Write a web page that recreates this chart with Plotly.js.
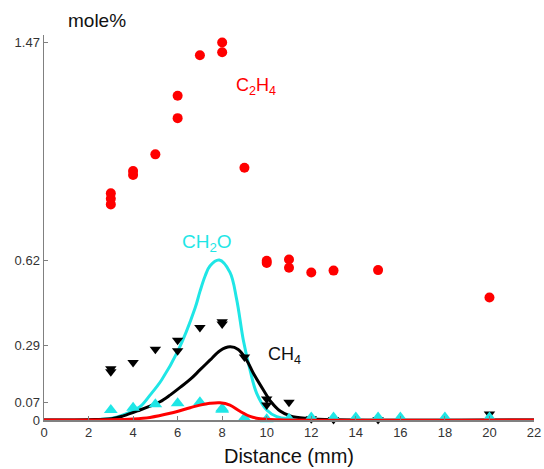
<!DOCTYPE html>
<html>
<head>
<meta charset="utf-8">
<script src="https://cdn.plot.ly/plotly-3.0.1.min.js"></script>
<style>html,body{margin:0;padding:0;background:#fff;}#chart{width:544px;height:469px;}</style>
</head>
<body>
<div id="chart"></div>
<script>
// Measured points
const c2h4X = [3, 3, 3, 4, 4, 5, 6, 6, 7, 8, 8, 9, 10, 10, 11, 11, 12, 13, 15, 20];
const c2h4Y = [0.883, 0.862, 0.84, 0.97, 0.955, 1.035, 1.263, 1.176, 1.421, 1.471, 1.433, 0.983, 0.62, 0.612, 0.625, 0.593, 0.575, 0.582, 0.584, 0.477];

const ch4X = [3, 3, 4, 5, 6, 6, 7, 8, 8, 9, 10, 10, 11, 12, 13, 15, 20];
const ch4Y = [0.2, 0.188, 0.224, 0.276, 0.311, 0.27, 0.36, 0.383, 0.374, 0.245, 0.082, 0.058, 0.069, 0.005, 0.002, 0.002, 0.023];

const ch2oX = [3, 4, 5, 6, 7, 8, 8, 9, 10, 11, 12, 13, 14, 15, 16, 18, 20];
const ch2oY = [0.039, 0.048, 0.061, 0.065, 0.069, 0.045, 0.04, 0.008, 0.003, 0.005, 0.01, 0.01, 0.01, 0.01, 0.01, 0.01, 0.01];

// Model curves
const ch2oCurveX = [0, 2, 3.04, 3.56, 4.31, 4.76, 5.28, 6.03, 6.78, 7.0, 7.23, 7.45, 7.87, 8.35, 8.65, 8.95, 9.25, 9.55, 10.0, 10.45, 11.05, 12, 22];
const ch2oCurveY = [0, 0.001, 0.007, 0.02, 0.052, 0.097, 0.156, 0.272, 0.435, 0.5, 0.56, 0.6, 0.623, 0.575, 0.47, 0.311, 0.195, 0.104, 0.039, 0.013, 0.004, 0.001, 0];

const ch4CurveX = [0, 2, 3.04, 3.56, 4.31, 4.76, 5.21, 5.66, 6.11, 6.56, 7.0, 7.45, 7.9, 8.35, 8.72, 9.1, 9.4, 9.85, 10.2, 10.6, 11.05, 11.8, 13, 22];
const ch4CurveY = [0, 0.001, 0.005, 0.016, 0.039, 0.054, 0.071, 0.097, 0.127, 0.158, 0.195, 0.233, 0.27, 0.285, 0.275, 0.233, 0.182, 0.117, 0.07, 0.035, 0.016, 0.006, 0.001, 0];

const c2h4CurveX = [0, 3, 4.0, 4.76, 5.66, 6.56, 7.0, 7.45, 7.9, 8.35, 8.8, 9.25, 9.7, 10.5, 22];
const c2h4CurveY = [0, 0.001, 0.004, 0.01, 0.026, 0.048, 0.058, 0.065, 0.067, 0.058, 0.034, 0.014, 0.005, 0.001, 0];

const xTicks = [0, 2, 4, 6, 8, 10, 12, 14, 16, 18, 20, 22];
const yTicks = [0, 0.07, 0.29, 0.62, 1.47];
const yTickText = ['0', '0.07', '0.29', '0.62', '1.47'];

const RED = '#ff0000', CYAN = '#1fe6e6', BLACK = '#000000';

const traces = [
  {x: ch2oCurveX, y: ch2oCurveY, mode: 'lines', line: {color: CYAN, width: 3, shape: 'spline', smoothing: 1}, hoverinfo: 'skip'},
  {x: ch4CurveX, y: ch4CurveY, mode: 'lines', line: {color: BLACK, width: 3, shape: 'spline', smoothing: 1}, hoverinfo: 'skip'},
  {x: c2h4X, y: c2h4Y, mode: 'markers', marker: {color: RED, size: 10, symbol: 'circle'}, cliponaxis: false},
  {x: ch4X, y: ch4Y, mode: 'markers', marker: {color: BLACK, size: 10, symbol: 'triangle-down'}, cliponaxis: false},
  {x: ch2oX, y: ch2oY, mode: 'markers', marker: {color: CYAN, size: 12, symbol: 'triangle-up'}, cliponaxis: false},
  {x: c2h4CurveX, y: c2h4CurveY, mode: 'lines', line: {color: RED, width: 3, shape: 'spline', smoothing: 1}, hoverinfo: 'skip', cliponaxis: false}
];

const layout = {
  width: 544, height: 469,
  margin: {l: 44, r: 10, t: 35, b: 49},
  paper_bgcolor: '#fff', plot_bgcolor: '#fff',
  showlegend: false,
  font: {family: 'Liberation Sans, Arial, sans-serif', color: '#333'},
  xaxis: {
    range: [0, 22], tickvals: xTicks, ticks: 'inside', ticklen: 4, tickcolor: '#808080',
    showline: true, linecolor: '#808080', linewidth: 1.5, showgrid: false, zeroline: false,
    tickfont: {size: 13, color: '#333'},
    title: {text: 'Distance (mm)', font: {size: 20, color: '#111'}, standoff: 10}
  },
  yaxis: {
    range: [0, 1.5], tickvals: yTicks, ticktext: yTickText, ticks: 'inside', ticklen: 4, tickcolor: '#808080',
    showline: true, linecolor: '#808080', linewidth: 1.5, showgrid: false, zeroline: false,
    tickfont: {size: 13, color: '#333'}
  },
  annotations: [
    {xref: 'paper', yref: 'paper', x: 0.045, y: 1.0, xanchor: 'left', yanchor: 'bottom', yshift: 2,
     text: 'mole%', showarrow: false, font: {size: 19, color: '#111'}},
    {x: 9.52, y: 1.30, text: 'C<sub>2</sub>H<sub>4</sub>', showarrow: false, font: {size: 18, color: RED}},
    {x: 7.32, y: 0.69, text: 'CH<sub>2</sub>O', showarrow: false, font: {size: 19, color: CYAN}},
    {x: 10.82, y: 0.25, text: 'CH<sub>4</sub>', showarrow: false, font: {size: 18, color: '#111'}}
  ]
};

Plotly.newPlot('chart', traces, layout, {displayModeBar: false, staticPlot: true});
</script>
</body>
</html>
